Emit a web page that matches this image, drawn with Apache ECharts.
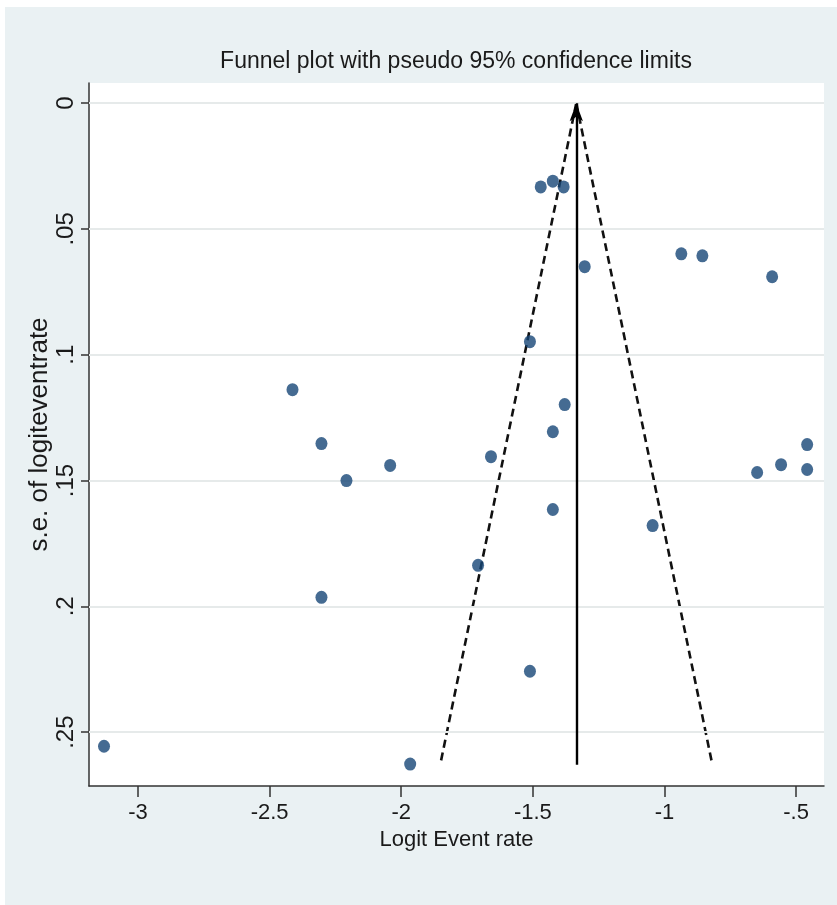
<!DOCTYPE html>
<html>
<head>
<meta charset="utf-8">
<script src="https://cdn.jsdelivr.net/npm/echarts@6/dist/echarts.min.js"></script>
<style>
html,body{margin:0;padding:0;background:#fff;}
#c{width:837px;height:905px;}
</style>
</head>
<body>
<div id="c"></div>
<script>
// ---- data ----
const studyLogit = [-3.129,-1.966,-2.413,-2.303,-2.303,-2.208,-2.042,-1.470,-1.424,-1.383,-1.303,-1.511,-1.379,-1.424,-1.659,-1.424,-1.708,-1.511,-1.045,-0.936,-0.856,-0.591,-0.648,-0.557,-0.458,-0.458];
const studySE    = [0.2556,0.2627,0.1139,0.1353,0.1964,0.1500,0.1440,0.0333,0.0310,0.0333,0.0650,0.0948,0.1198,0.1306,0.1405,0.1615,0.1837,0.2258,0.1679,0.0599,0.0607,0.0690,0.1468,0.1437,0.1357,0.1456];
const pooledX = -1.335;
const funnelSE = [0, 0.263];
const funnelLeftX = [-1.335, -1.852];
const funnelRightX = [-1.335, -0.818];
const xTicks = [-3, -2.5, -2, -1.5, -1, -0.5];
const xTickLabels = ['-3', '-2.5', '-2', '-1.5', '-1', '-.5'];
const yTicks = [0, 0.05, 0.1, 0.15, 0.2, 0.25];
const yTickLabels = ['0', '.05', '.1', '.15', '.2', '.25'];

const FONT = "'Liberation Sans Narrow', 'Arial Narrow', 'Liberation Sans', sans-serif";
const chart = echarts.init(document.getElementById('c'), null, {renderer: 'canvas'});

const points = studyLogit.map((x, i) => [x, studySE[i]]);
const leftLine = funnelSE.map((s, i) => [funnelLeftX[i], s]);
const rightLine = funnelSE.map((s, i) => [funnelRightX[i], s]);
const xLabelMap = {}; xTicks.forEach((v, i) => xLabelMap[v.toFixed(2)] = xTickLabels[i]);
const yLabelMap = {}; yTicks.forEach((v, i) => yLabelMap[v.toFixed(3)] = yTickLabels[i]);

chart.setOption({
  animation: false,
  backgroundColor: '#ffffff',
  graphic: [{
    type: 'rect', z: -10, silent: true,
    shape: {x: 5, y: 7, width: 832, height: 898},
    style: {fill: '#eaf1f3'}
  }],
  title: {
    text: 'Funnel plot with pseudo 95% confidence limits',
    left: 451, top: 45, textAlign: 'center',
    textStyle: {fontFamily: FONT, fontSize: 23, fontWeight: 'normal', color: '#1a1a1a'}
  },
  grid: {
    left: 89, top: 83, right: 13, bottom: 119,
    show: true, backgroundColor: '#ffffff', borderWidth: 0
  },
  xAxis: {
    type: 'value', min: -3.186, max: -0.394,
    name: 'Logit Event rate', nameLocation: 'middle', nameGap: 30,
    nameTextStyle: {fontFamily: FONT, fontSize: 22, color: '#1a1a1a'},
    axisLine: {show: true, onZero: false, lineStyle: {color: '#333', width: 1.5}},
    axisTick: {show: true, length: 11, customValues: xTicks, lineStyle: {color: '#333', width: 1.5}},
    axisLabel: {customValues: xTicks, margin: 16, fontFamily: FONT, fontSize: 22, color: '#1a1a1a',
      formatter: v => xLabelMap[Number(v).toFixed(2)] ?? ''},
    splitLine: {show: false}
  },
  yAxis: {
    type: 'value', inverse: true, min: -0.008, max: 0.2714,
    name: 's.e. of logiteventrate', nameLocation: 'middle', nameGap: 36, nameRotate: 90,
    nameMoveOverlap: false,
    nameTextStyle: {fontFamily: FONT, fontSize: 26, color: '#1a1a1a'},
    axisLine: {show: true, onZero: false, lineStyle: {color: '#333', width: 1.5}},
    axisTick: {show: true, length: 8, customValues: yTicks, lineStyle: {color: '#333', width: 1.5}},
    axisLabel: {customValues: yTicks, rotate: 90, margin: 11, fontFamily: FONT, fontSize: 24, color: '#1a1a1a',
      formatter: v => yLabelMap[Number(v).toFixed(3)] ?? ''},
    splitLine: {show: false}
  },
  series: [
    {
      type: 'line', data: [], silent: true,
      markLine: {
        silent: true, symbol: 'none', animation: false,
        label: {show: false},
        lineStyle: {color: '#e6eaea', width: 2, type: 'solid'},
        data: yTicks.map(v => ({yAxis: v}))
      }
    },
    {
      type: 'line', data: leftLine, symbol: 'none', silent: true,
      lineStyle: {color: '#111', width: 2.6, type: [8, 5]}
    },
    {
      type: 'line', data: rightLine, symbol: 'none', silent: true,
      lineStyle: {color: '#111', width: 2.6, type: [8, 5]}
    },
    {
      type: 'line', data: [], silent: true,
      markLine: {
        silent: true, animation: false,
        symbol: ['none', 'arrow'], symbolSize: [10, 18],
        label: {show: false},
        lineStyle: {color: '#000', width: 2.4, type: 'solid'},
        data: [[{coord: [pooledX, funnelSE[1]]}, {coord: [pooledX, funnelSE[0]]}]]
      }
    },
    {
      type: 'scatter', data: points, symbol: 'circle', symbolSize: [12, 13], z: 5,
      itemStyle: {color: '#164677'}
    }
  ]
});
</script>
</body>
</html>
